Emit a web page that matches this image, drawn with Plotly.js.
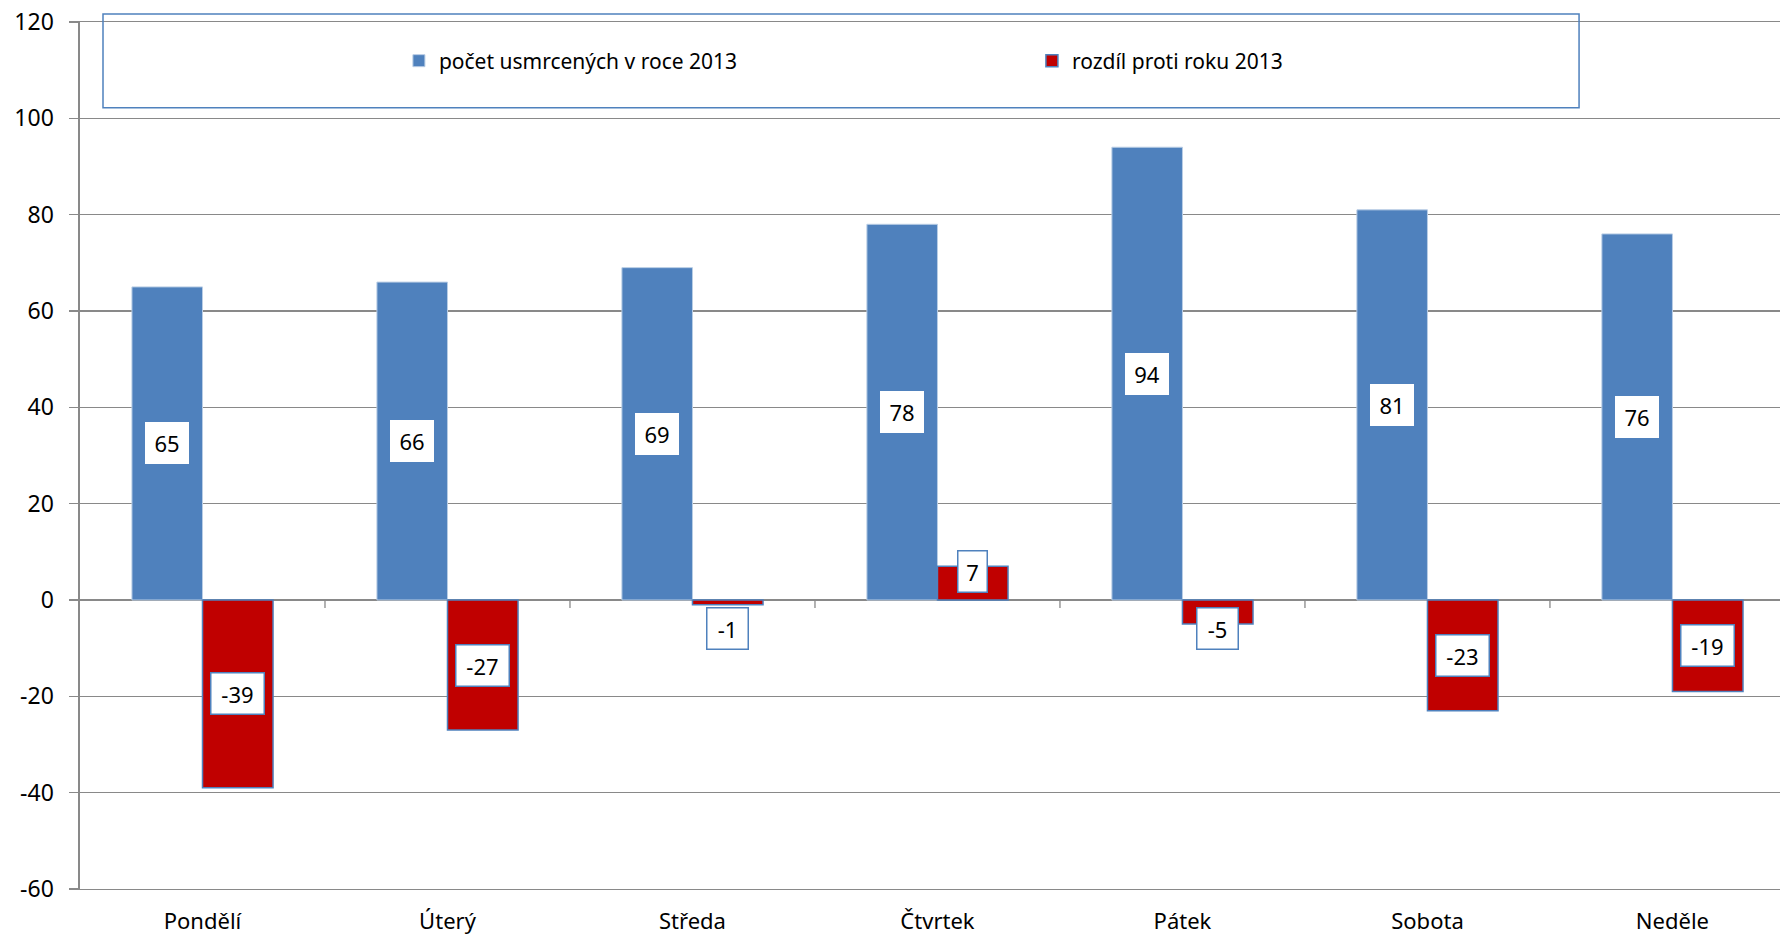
<!DOCTYPE html>
<html>
<head>
<meta charset="utf-8">
<script src="https://cdn.plot.ly/plotly-3.0.1.min.js"></script>
<style>
html,body{margin:0;padding:0;background:#fff;}
#chart{width:1780px;height:939px;}
</style>
</head>
<body>
<div id="chart"></div>
<script>
const categories = ['Pondělí', 'Úterý', 'Středa', 'Čtvrtek', 'Pátek', 'Sobota', 'Neděle'];
const killed2013 = [65, 66, 69, 78, 94, 81, 76];
const diffVs2013 = [-39, -27, -1, 7, -5, -23, -19];
const seriesNames = ['počet usmrcených v roce 2013', 'rozdíl proti roku 2013'];
const yTickVals = [-60, -40, -20, 0, 20, 40, 60, 80, 100, 120];
const yTickText = ['-60', '-40', '-20', '0', '20', '40', '60', '80', '100', '120'];

const BLUE = '#4F81BD';
const RED = '#C00000';
const GRID = '#898989';
const FONT = 'Noto Sans, Open Sans, sans-serif';
const FS = 23;

const bargap = 0.424;
const half = (1 - bargap) / 4;

const traces = [
  {
    type: 'bar', name: seriesNames[0], x: categories, y: killed2013,
    marker: {color: BLUE, line: {color: '#B9CDE5', width: 1}},
    hoverinfo: 'skip'
  },
  {
    type: 'bar', name: seriesNames[1], x: categories, y: diffVs2013,
    marker: {color: RED, line: {color: BLUE, width: 1.5}},
    hoverinfo: 'skip'
  }
];

function labelY(v) {
  const m = Math.max(Math.abs(v) / 2, 6);
  return v < 0 ? -m : m;
}

const annotations = [];
killed2013.forEach((v, i) => {
  annotations.push({
    x: i - half, y: v / 2, xref: 'x', yref: 'y', text: String(v), showarrow: false,
    font: {family: FONT, size: 22, color: '#000'},
    bgcolor: '#fff', bordercolor: '#fff', borderwidth: 1, borderpad: 5,
    width: String(v).length * 13 + 6
  });
});
diffVs2013.forEach((v, i) => {
  annotations.push({
    x: i + half, y: labelY(v), xref: 'x', yref: 'y', text: String(v), showarrow: false,
    font: {family: FONT, size: 22, color: '#000'},
    bgcolor: '#fff', bordercolor: BLUE, borderwidth: 1.5, borderpad: 5,
    width: String(v).length * 12 + 6
  });
});

const xMax = 6.439;
const boundaries = categories.slice(1).map((c, i) => i + 0.5);

const shapes = [{
  type: 'rect', xref: 'paper', yref: 'paper',
  x0: 0.01353, x1: 0.8818, y0: 0.9011, y1: 1.0092,
  line: {color: BLUE, width: 1.5}, fillcolor: 'rgba(0,0,0,0)', layer: 'above'
}];
boundaries.forEach(b => {
  shapes.push({
    type: 'line', xref: 'x', yref: 'y', ysizemode: 'pixel', yanchor: 0,
    x0: b, x1: b, y0: 0, y1: -8,
    line: {color: GRID, width: 1.3}, layer: 'above'
  });
});

const layout = {
  width: 1780, height: 939,
  margin: {l: 80, r: 0, t: 22, b: 50},
  paper_bgcolor: '#fff', plot_bgcolor: '#fff',
  font: {family: FONT, size: FS, color: '#000'},
  barmode: 'group', bargap: bargap, bargroupgap: 0,
  showlegend: true,
  legend: {
    orientation: 'h', x: 0.1876, y: 0.955, xanchor: 'left', yanchor: 'middle',
    entrywidth: 588, entrywidthmode: 'pixels',
    bgcolor: 'rgba(0,0,0,0)', borderwidth: 0,
    font: {family: FONT, size: 21, color: '#000'}
  },
  xaxis: {
    type: 'category', range: [-0.5, xMax], showgrid: false, zeroline: false,
    showline: true, mirror: true, linecolor: GRID, linewidth: 1.3,
    ticks: '', ticklabelstandoff: 12,
    tickfont: {family: FONT, size: 22, color: '#000'}
  },
  yaxis: {
    range: [-60, 120], tickmode: 'array', tickvals: yTickVals, ticktext: yTickText,
    showgrid: true, gridcolor: GRID, gridwidth: 1.3,
    zeroline: true, zerolinecolor: GRID, zerolinewidth: 1.6,
    showline: true, linecolor: GRID, linewidth: 1.6,
    ticks: 'outside', ticklen: 9, tickwidth: 1.3, tickcolor: GRID,
    ticklabelstandoff: 11,
    tickfont: {family: FONT, size: FS, color: '#000'}
  },
  shapes: shapes,
  annotations: annotations
};

Plotly.newPlot('chart', traces, layout, {displayModeBar: false, staticPlot: true});
</script>
</body>
</html>
